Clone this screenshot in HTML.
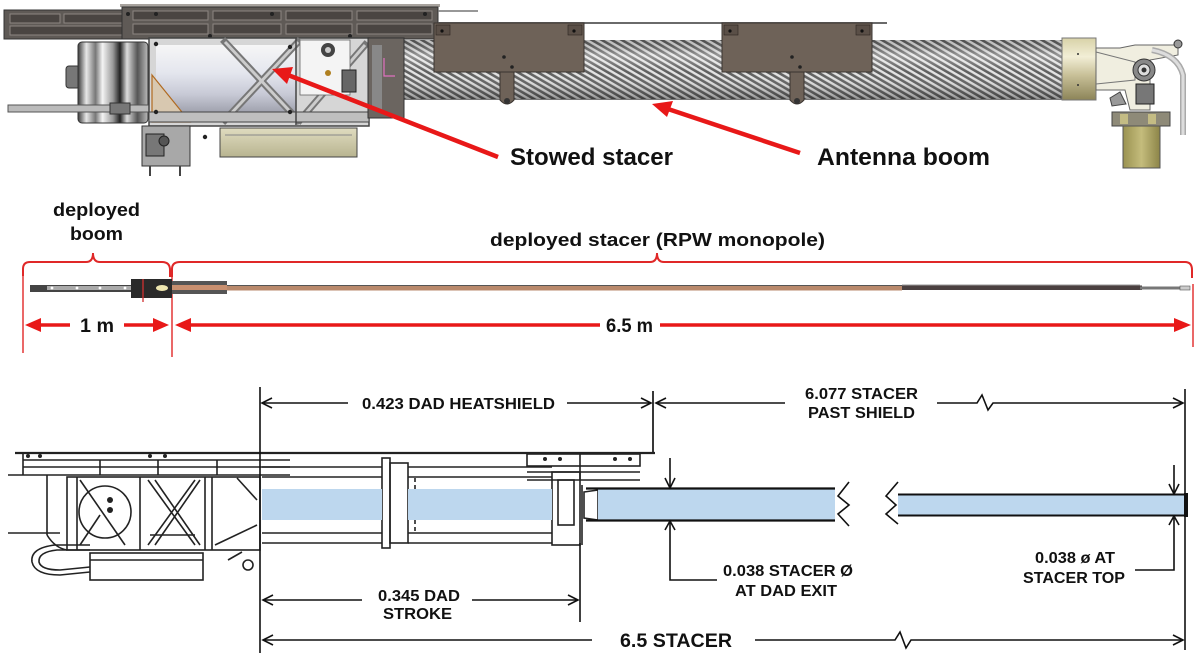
<!DOCTYPE html>
<html><head><meta charset="utf-8">
<style>
html,body{margin:0;padding:0;background:#fff;}
svg{display:block;}
text{font-family:"Liberation Sans",Arial,sans-serif;font-weight:bold;fill:#111;}
</style></head>
<body>
<svg width="1200" height="661" viewBox="0 0 1200 661" xmlns="http://www.w3.org/2000/svg">
<defs>
  <pattern id="stripes" width="5" height="5" patternUnits="userSpaceOnUse" patternTransform="rotate(30)">
    <rect width="5" height="5" fill="#5e5e5e"/>
    <rect width="5" height="2.4" fill="#e2e2e2"/>
  </pattern>
  <linearGradient id="tubeShade" x1="0" y1="0" x2="0" y2="1">
    <stop offset="0" stop-color="#000" stop-opacity="0.15"/>
    <stop offset="0.25" stop-color="#fff" stop-opacity="0.35"/>
    <stop offset="0.55" stop-color="#fff" stop-opacity="0"/>
    <stop offset="1" stop-color="#000" stop-opacity="0.35"/>
  </linearGradient>
  <linearGradient id="drum" x1="0" y1="0" x2="1" y2="0">
    <stop offset="0" stop-color="#3a3a3a"/>
    <stop offset="0.12" stop-color="#e8e8e8"/>
    <stop offset="0.25" stop-color="#777"/>
    <stop offset="0.35" stop-color="#f4f4f4"/>
    <stop offset="0.5" stop-color="#999"/>
    <stop offset="0.6" stop-color="#222"/>
    <stop offset="0.7" stop-color="#ddd"/>
    <stop offset="0.85" stop-color="#555"/>
    <stop offset="1" stop-color="#bbb"/>
  </linearGradient>
  <linearGradient id="cyl" x1="0" y1="0" x2="0" y2="1">
    <stop offset="0" stop-color="#f6f6f6"/>
    <stop offset="0.4" stop-color="#e4e6ee"/>
    <stop offset="0.7" stop-color="#c8cad6"/>
    <stop offset="1" stop-color="#9a9ca8"/>
  </linearGradient>
  <linearGradient id="collar" x1="0" y1="0" x2="0" y2="1">
    <stop offset="0" stop-color="#d8d2a8"/>
    <stop offset="0.3" stop-color="#f2eed6"/>
    <stop offset="0.6" stop-color="#c8c098"/>
    <stop offset="1" stop-color="#8c8458"/>
  </linearGradient>
  <linearGradient id="olive" x1="0" y1="0" x2="1" y2="0">
    <stop offset="0" stop-color="#9a9250"/>
    <stop offset="0.5" stop-color="#c4bc7c"/>
    <stop offset="1" stop-color="#8c8448"/>
  </linearGradient>
  <linearGradient id="beige" x1="0" y1="0" x2="0" y2="1">
    <stop offset="0" stop-color="#e0dcc0"/>
    <stop offset="1" stop-color="#b8b490"/>
  </linearGradient>
</defs>

<!-- ================= TOP SECTION ================= -->
<!-- left plate -->
<rect x="4" y="10" width="132" height="29" fill="#5f5a56" stroke="#333" stroke-width="1"/>
<rect x="10" y="14" width="50" height="9" fill="#4a4542" stroke="#8d8782"/>
<rect x="64" y="14" width="66" height="9" fill="#4a4542" stroke="#8d8782"/>
<rect x="10" y="26" width="120" height="9" fill="#4a4542" stroke="#8d8782"/>
<!-- main plate -->
<rect x="120" y="4" width="320" height="3" fill="#a8a39e"/>
<rect x="122" y="7" width="316" height="32" fill="#5f5a56" stroke="#333"/>
<g fill="#4a4542" stroke="#8d8782" stroke-width="1">
  <rect x="133" y="11" width="75" height="9"/><rect x="213" y="11" width="68" height="9"/>
  <rect x="286" y="11" width="66" height="9"/><rect x="357" y="11" width="75" height="9"/>
  <rect x="133" y="24" width="75" height="10"/><rect x="213" y="24" width="68" height="10"/>
  <rect x="286" y="24" width="66" height="10"/><rect x="357" y="24" width="75" height="10"/>
</g>
<g fill="#222"><circle cx="128" cy="14" r="2"/><circle cx="156" cy="14" r="2"/><circle cx="272" cy="14" r="2"/><circle cx="425" cy="14" r="2"/><circle cx="210" cy="36" r="2"/><circle cx="350" cy="36" r="2"/></g>
<line x1="438" y1="23" x2="887" y2="23" stroke="#6a6a6a" stroke-width="2"/>
<line x1="438" y1="11" x2="478" y2="11" stroke="#777" stroke-width="1.5"/>

<!-- boom tube -->
<rect x="402" y="40" width="662" height="59" fill="url(#stripes)"/>
<rect x="402" y="40" width="662" height="59" fill="url(#tubeShade)"/>
<line x1="402" y1="99.5" x2="1064" y2="99.5" stroke="#777" stroke-width="1"/>

<!-- brackets on boom -->
<g>
  <rect x="434" y="23" width="150" height="49" fill="#6e6258" stroke="#3a3430"/>
  <rect x="436" y="25" width="14" height="10" fill="#5a4f47" stroke="#2a2420" stroke-width="0.6"/>
  <rect x="568" y="25" width="14" height="10" fill="#5a4f47" stroke="#2a2420" stroke-width="0.6"/>
  <circle cx="442" cy="31" r="1.6" fill="#111"/><circle cx="574" cy="31" r="1.6" fill="#111"/>
  <circle cx="504" cy="57" r="1.8" fill="#222"/><circle cx="512" cy="67" r="1.8" fill="#222"/>
  <path d="M500,72 L514,72 L514,100 Q507,108 500,100 Z" fill="#6e6258" stroke="#3a3430"/>
  <circle cx="507" cy="101" r="3" fill="#333"/>
  <rect x="722" y="23" width="150" height="49" fill="#6e6258" stroke="#3a3430"/>
  <rect x="724" y="25" width="14" height="10" fill="#5a4f47" stroke="#2a2420" stroke-width="0.6"/>
  <rect x="856" y="25" width="14" height="10" fill="#5a4f47" stroke="#2a2420" stroke-width="0.6"/>
  <circle cx="730" cy="31" r="1.6" fill="#111"/><circle cx="862" cy="31" r="1.6" fill="#111"/>
  <circle cx="792" cy="57" r="1.8" fill="#222"/><circle cx="800" cy="67" r="1.8" fill="#222"/>
  <path d="M790,72 L804,72 L804,100 Q797,108 790,100 Z" fill="#6e6258" stroke="#3a3430"/>
  <circle cx="797" cy="101" r="3" fill="#333"/>
</g>

<!-- left drum & rod -->
<rect x="66" y="66" width="14" height="22" rx="3" fill="#777" stroke="#333"/>
<rect x="78" y="42" width="70" height="81" rx="4" fill="url(#drum)" stroke="#333"/>
<rect x="8" y="105" width="148" height="7" fill="#bbb" stroke="#555"/>
<rect x="110" y="103" width="20" height="11" fill="#777" stroke="#333"/>

<!-- frame -->
<rect x="149" y="38" width="220" height="88" fill="#d6d6d6" stroke="#444" stroke-width="1.5"/>
<rect x="156" y="45" width="140" height="70" fill="url(#cyl)"/>
<path d="M152,75 L190,122 L152,122 Z" fill="#d8c8b0" stroke="#b06a20" stroke-width="1.2"/>
<g stroke="#777" stroke-width="7" stroke-linecap="square">
  <line x1="225" y1="42" x2="298" y2="120"/>
  <line x1="298" y1="42" x2="225" y2="120"/>
  <line x1="300" y1="120" x2="365" y2="45"/>
</g>
<g stroke="#ccc" stroke-width="3">
  <line x1="225" y1="42" x2="298" y2="120"/>
  <line x1="298" y1="42" x2="225" y2="120"/>
  <line x1="300" y1="120" x2="365" y2="45"/>
</g>
<rect x="149" y="112" width="220" height="10" fill="#bfbfbf" stroke="#444"/>
<line x1="296" y1="38" x2="296" y2="125" stroke="#444" stroke-width="1.5"/>
<rect x="300" y="40" width="50" height="55" fill="#f4f4f4" stroke="#666" stroke-width="0.8"/>
<circle cx="328" cy="50" r="7" fill="#444"/><circle cx="328" cy="50" r="3" fill="#ccc"/>
<circle cx="328" cy="73" r="3" fill="#b08020"/>
<rect x="342" y="70" width="14" height="22" fill="#666" stroke="#222"/>
<g fill="#222"><circle cx="156" cy="44" r="2.2"/><circle cx="290" cy="47" r="2.2"/><circle cx="156" cy="112" r="2.2"/><circle cx="205" cy="137" r="2.2"/><circle cx="290" cy="112" r="2.2"/><circle cx="313" cy="140" r="2.2"/></g>
<!-- mechanism between frame and boom -->
<rect x="368" y="38" width="36" height="80" fill="#6b6560" stroke="#333"/>
<rect x="372" y="45" width="10" height="65" fill="#888"/>
<path d="M384,58 L384,76 L395,76" stroke="#e070c0" stroke-width="1.2" fill="none"/>

<!-- boxes below frame -->
<rect x="220" y="128" width="137" height="29" fill="url(#beige)" stroke="#444"/>
<line x1="225" y1="135" x2="352" y2="135" stroke="#888"/>
<rect x="142" y="126" width="48" height="40" fill="#a8a8a8" stroke="#333"/>
<rect x="146" y="134" width="18" height="22" fill="#777" stroke="#222"/>
<circle cx="164" cy="141" r="5" fill="#555" stroke="#222"/>
<g stroke="#444" stroke-width="2"><line x1="150" y1="166" x2="150" y2="176"/><line x1="180" y1="166" x2="180" y2="176"/></g>

<!-- end collar & hinge -->
<rect x="1062" y="38" width="34" height="62" fill="url(#collar)" stroke="#777"/>
<circle cx="1078" cy="54" r="1" fill="#333"/><circle cx="1078" cy="85" r="1" fill="#333"/>
<path d="M1096,48 L1120,48 L1135,45 L1178,45 L1178,55 L1150,60 L1150,110 L1130,110 L1125,90 L1096,90 Z" fill="#f0eee0" stroke="#666"/>
<path d="M1096,52 L1135,62 L1135,80 L1096,84" fill="none" stroke="#777"/>
<circle cx="1144" cy="70" r="11" fill="#888" stroke="#333"/>
<circle cx="1144" cy="70" r="6" fill="#ddd" stroke="#333"/>
<circle cx="1144" cy="70" r="2.5" fill="#333"/>
<rect x="1136" y="84" width="18" height="20" fill="#777" stroke="#222"/>
<path d="M1152,50 Q1178,55 1183,75 L1183,135" fill="none" stroke="#aaa" stroke-width="6"/>
<path d="M1152,50 Q1178,55 1183,75 L1183,135" fill="none" stroke="#ddd" stroke-width="3"/>
<circle cx="1178" cy="44" r="4" fill="#999" stroke="#333"/>
<path d="M1110,98 L1120,92 L1126,104 L1112,106 Z" fill="#999" stroke="#444"/>
<rect x="1112" y="112" width="58" height="14" fill="#8e8a78" stroke="#444"/>
<rect x="1120" y="114" width="8" height="10" fill="#c4bc84"/>
<rect x="1148" y="114" width="8" height="10" fill="#c4bc84"/>
<rect x="1123" y="126" width="37" height="42" fill="url(#olive)" stroke="#555"/>

<!-- red arrows -->
<line x1="498" y1="157" x2="288" y2="75" stroke="#e81818" stroke-width="4.5"/>
<path d="M272,69 L293,67 L287,84 Z" fill="#e81818"/>
<line x1="800" y1="153" x2="668" y2="109" stroke="#e81818" stroke-width="4.5"/>
<path d="M652,104 L673,101 L667,117 Z" fill="#e81818"/>

<text x="510" y="165" font-size="24" textLength="163" lengthAdjust="spacingAndGlyphs">Stowed stacer</text>
<text x="817" y="165" font-size="24" textLength="173" lengthAdjust="spacingAndGlyphs">Antenna boom</text>

<!-- ================= MIDDLE SECTION ================= -->
<text x="53" y="216" font-size="18" textLength="87" lengthAdjust="spacingAndGlyphs">deployed</text>
<text x="70" y="240" font-size="18" textLength="53" lengthAdjust="spacingAndGlyphs">boom</text>
<text x="490" y="246" font-size="18" textLength="335" lengthAdjust="spacingAndGlyphs">deployed stacer (RPW monopole)</text>

<g fill="none" stroke="#e02828" stroke-width="2">
  <path d="M23,276 L23,269 Q23,262 30,262 L86,262 Q93,262 93,253 Q93,262 100,262 L162,262 Q170,262 170,270 L170,277"/>
  <path d="M172,277 L172,269 Q172,262 180,262 L650,262 Q657,262 657,253 Q657,262 664,262 L1185,262 Q1192,262 1192,270 L1192,278"/>
</g>
<g stroke="#e02828" stroke-width="1.4">
  <line x1="23" y1="276" x2="23" y2="353"/>
  <line x1="172" y1="277" x2="172" y2="357"/>
  <line x1="1193" y1="284" x2="1193" y2="347"/>
</g>

<!-- deployed boom graphic -->
<rect x="30" y="285" width="105" height="7" fill="#444"/>
<rect x="47" y="286" width="86" height="4" fill="#aaa"/>
<g fill="#fff"><circle cx="52" cy="288" r="1.4"/><circle cx="77" cy="288" r="1.4"/><circle cx="100" cy="288" r="1.4"/><circle cx="125" cy="288" r="1.4"/></g>
<rect x="131" y="279" width="41" height="19" fill="#2a2a2a"/>
<line x1="143" y1="279" x2="143" y2="302" stroke="#d03030" stroke-width="1.3"/>
<ellipse cx="162" cy="288" rx="6" ry="3" fill="#eee6b0"/>
<rect x="172" y="281" width="55" height="13" fill="#555"/>
<rect x="172" y="285" width="55" height="5" fill="#c99070"/>
<rect x="227" y="285.5" width="675" height="5" fill="#b9896c"/>
<line x1="227" y1="285.5" x2="902" y2="285.5" stroke="#555" stroke-width="1"/>
<rect x="902" y="285.5" width="240" height="4.5" fill="#4a4040"/>
<line x1="902" y1="285" x2="1140" y2="285" stroke="#999" stroke-width="1"/>
<rect x="1140" y="286.5" width="50" height="3" fill="#777"/>
<rect x="1180" y="286" width="10" height="4" fill="#ccc" stroke="#555" stroke-width="0.6"/>

<!-- red dimension arrows -->
<g stroke="#e81818" stroke-width="3.5">
  <line x1="38" y1="325" x2="70" y2="325"/>
  <line x1="124" y1="325" x2="156" y2="325"/>
  <line x1="188" y1="325" x2="600" y2="325"/>
  <line x1="660" y1="325" x2="1176" y2="325"/>
</g>
<g fill="#e81818">
  <path d="M25,325 L41,318 L41,332 Z"/>
  <path d="M169,325 L153,318 L153,332 Z"/>
  <path d="M175,325 L191,318 L191,332 Z"/>
  <path d="M1191,325 L1174,318 L1174,332 Z"/>
</g>
<text x="80" y="332" font-size="19" textLength="34" lengthAdjust="spacingAndGlyphs">1 m</text>
<text x="606" y="332" font-size="19" textLength="47" lengthAdjust="spacingAndGlyphs">6.5 m</text>

<!-- ================= BOTTOM SECTION ================= -->
<g stroke="#222" fill="none" stroke-width="1.6">
  <line x1="15" y1="453" x2="655" y2="453" stroke-width="2.2"/>
  <line x1="653" y1="391" x2="653" y2="454" stroke-width="1.8"/>
  <line x1="23" y1="460" x2="290" y2="460"/>
  <line x1="23" y1="467" x2="290" y2="467"/>
  <line x1="8" y1="475" x2="290" y2="475"/>
  <line x1="23" y1="453" x2="23" y2="475"/>
  <line x1="100" y1="460" x2="100" y2="475"/><line x1="158" y1="460" x2="158" y2="475"/><line x1="217" y1="460" x2="217" y2="475"/>
  <line x1="8" y1="533" x2="60" y2="533"/>
  <line x1="47" y1="475" x2="47" y2="535"/>
  <path d="M47,535 Q55,548 67,550"/>
  <rect x="67" y="477" width="193" height="73"/>
  <line x1="77" y1="477" x2="77" y2="550"/>
  <circle cx="105" cy="512" r="26"/>
  <line x1="80" y1="480" x2="125" y2="545"/>
  <line x1="80" y1="545" x2="100" y2="515"/>
  <line x1="140" y1="477" x2="140" y2="550"/>
  <line x1="148" y1="480" x2="195" y2="545"/>
  <line x1="195" y1="480" x2="148" y2="545"/>
  <line x1="155" y1="480" x2="200" y2="545"/>
  <line x1="200" y1="480" x2="155" y2="545"/>
  <line x1="205" y1="477" x2="205" y2="550"/>
  <line x1="212" y1="477" x2="212" y2="550"/>
  <line x1="237" y1="478" x2="257" y2="500"/>
  <line x1="257" y1="525" x2="215" y2="545"/>
  <line x1="150" y1="535" x2="195" y2="535"/>
  <rect x="90" y="553" width="113" height="27"/>
  <line x1="90" y1="560" x2="203" y2="560"/>
  <path d="M90,545 L55,545 Q30,548 32,562 Q35,575 60,575 L90,572"/>
  <path d="M90,550 L57,550 Q38,552 39,562 Q41,570 60,570 L90,567"/>
  <circle cx="248" cy="565" r="5"/>
  <path d="M228,560 L242,552"/>
  <line x1="262" y1="467" x2="382" y2="467"/>
  <line x1="262" y1="477" x2="382" y2="477"/>
  <line x1="262" y1="533" x2="382" y2="533"/>
  <line x1="262" y1="543" x2="382" y2="543"/>
  <rect x="382" y="458" width="8" height="90"/>
  <rect x="390" y="463" width="18" height="80"/>
  <line x1="408" y1="467" x2="552" y2="467"/>
  <line x1="408" y1="477" x2="552" y2="477"/>
  <line x1="408" y1="533" x2="552" y2="533"/>
  <line x1="408" y1="543" x2="552" y2="543"/>
  <line x1="415" y1="478" x2="415" y2="532" stroke-dasharray="4 3"/>
  <rect x="527" y="454" width="113" height="12"/>
  <line x1="527" y1="472" x2="640" y2="472"/>
  <line x1="527" y1="480" x2="640" y2="480"/>
  <line x1="580" y1="454" x2="580" y2="480"/>
  <rect x="552" y="472" width="28" height="73"/>
  <rect x="558" y="480" width="16" height="45"/>
  <line x1="582" y1="485" x2="582" y2="545"/>
</g>
<g fill="#222">
  <circle cx="28" cy="456" r="2"/><circle cx="40" cy="456" r="2"/><circle cx="150" cy="456" r="2"/><circle cx="165" cy="456" r="2"/>
  <circle cx="545" cy="459" r="2"/><circle cx="560" cy="459" r="2"/><circle cx="615" cy="459" r="2"/><circle cx="630" cy="459" r="2"/>
  <circle cx="110" cy="500" r="3"/><circle cx="110" cy="510" r="3"/>
</g>
<rect x="262" y="489" width="120" height="31" fill="#bdd7ee"/>
<rect x="408" y="489" width="144" height="31" fill="#bdd7ee"/>
<path d="M584,492 L598,490 L598,520 L584,518 Z" fill="#fff" stroke="#222" stroke-width="1.6"/>
<rect x="598" y="489" width="237" height="31" fill="#bdd7ee"/>
<line x1="586" y1="488.5" x2="835" y2="488.5" stroke="#111" stroke-width="2.2"/>
<line x1="586" y1="520.5" x2="835" y2="520.5" stroke="#111" stroke-width="2.2"/>
<path d="M849,482 L838,496 L849,505 L838,514 L849,526" fill="none" stroke="#111" stroke-width="1.6"/>
<path d="M898,482 L886,496 L896,505 L886,514 L898,524" fill="none" stroke="#111" stroke-width="1.6"/>
<rect x="898" y="495" width="287" height="20" fill="#bdd7ee"/>
<line x1="898" y1="494.5" x2="1186" y2="494.5" stroke="#111" stroke-width="2"/>
<line x1="898" y1="515.5" x2="1186" y2="515.5" stroke="#111" stroke-width="2"/>
<rect x="1184" y="493" width="4" height="24" fill="#111"/>

<g stroke="#111" stroke-width="1.6" fill="none">
  <line x1="260" y1="387" x2="260" y2="653"/>
  <line x1="1185" y1="389" x2="1185" y2="650"/>
  <line x1="580" y1="543" x2="580" y2="622"/>
  <line x1="262" y1="403" x2="348" y2="403"/>
  <line x1="567" y1="403" x2="651" y2="403"/>
  <line x1="656" y1="403" x2="785" y2="403"/>
  <path d="M937,403 L977,403 L982,395 L988,410 L993,403 L1183,403"/>
  <line x1="670" y1="458" x2="670" y2="487"/>
  <path d="M670,523 L670,580 L717,580"/>
  <line x1="1174" y1="465" x2="1174" y2="493"/>
  <path d="M1174,518 L1174,570 L1135,570"/>
  <line x1="263" y1="600" x2="362" y2="600"/>
  <line x1="472" y1="600" x2="578" y2="600"/>
  <line x1="263" y1="640" x2="592" y2="640"/>
  <path d="M755,640 L895,640 L900,632 L906,648 L911,640 L1183,640"/>
  <path d="M272,398 L262,403 L272,408"/>
  <path d="M641,398 L651,403 L641,408"/>
  <path d="M666,398 L656,403 L666,408"/>
  <path d="M1173,398 L1183,403 L1173,408"/>
  <path d="M665,478 L670,488 L675,478"/>
  <path d="M665,530 L670,521 L675,530"/>
  <path d="M1169,484 L1174,494 L1179,484"/>
  <path d="M1169,525 L1174,516 L1179,525"/>
  <path d="M273,595 L263,600 L273,605"/>
  <path d="M568,595 L578,600 L568,605"/>
  <path d="M273,635 L263,640 L273,645"/>
  <path d="M1173,635 L1183,640 L1173,645"/>
</g>

<text x="362" y="409" font-size="16" textLength="193" lengthAdjust="spacingAndGlyphs">0.423 DAD HEATSHIELD</text>
<text x="805" y="399" font-size="16" textLength="113" lengthAdjust="spacingAndGlyphs">6.077 STACER</text>
<text x="808" y="418" font-size="16" textLength="107" lengthAdjust="spacingAndGlyphs">PAST SHIELD</text>
<text x="723" y="576" font-size="16" textLength="130" lengthAdjust="spacingAndGlyphs">0.038 STACER Ø</text>
<text x="735" y="596" font-size="16" textLength="102" lengthAdjust="spacingAndGlyphs">AT DAD EXIT</text>
<text x="1035" y="563" font-size="16" textLength="80" lengthAdjust="spacingAndGlyphs">0.038 ø AT</text>
<text x="1023" y="583" font-size="16" textLength="102" lengthAdjust="spacingAndGlyphs">STACER TOP</text>
<text x="378" y="601" font-size="16" textLength="82" lengthAdjust="spacingAndGlyphs">0.345 DAD</text>
<text x="383" y="619" font-size="16" textLength="69" lengthAdjust="spacingAndGlyphs">STROKE</text>
<text x="620" y="647" font-size="19" textLength="112" lengthAdjust="spacingAndGlyphs">6.5 STACER</text>
</svg>
</body></html>
